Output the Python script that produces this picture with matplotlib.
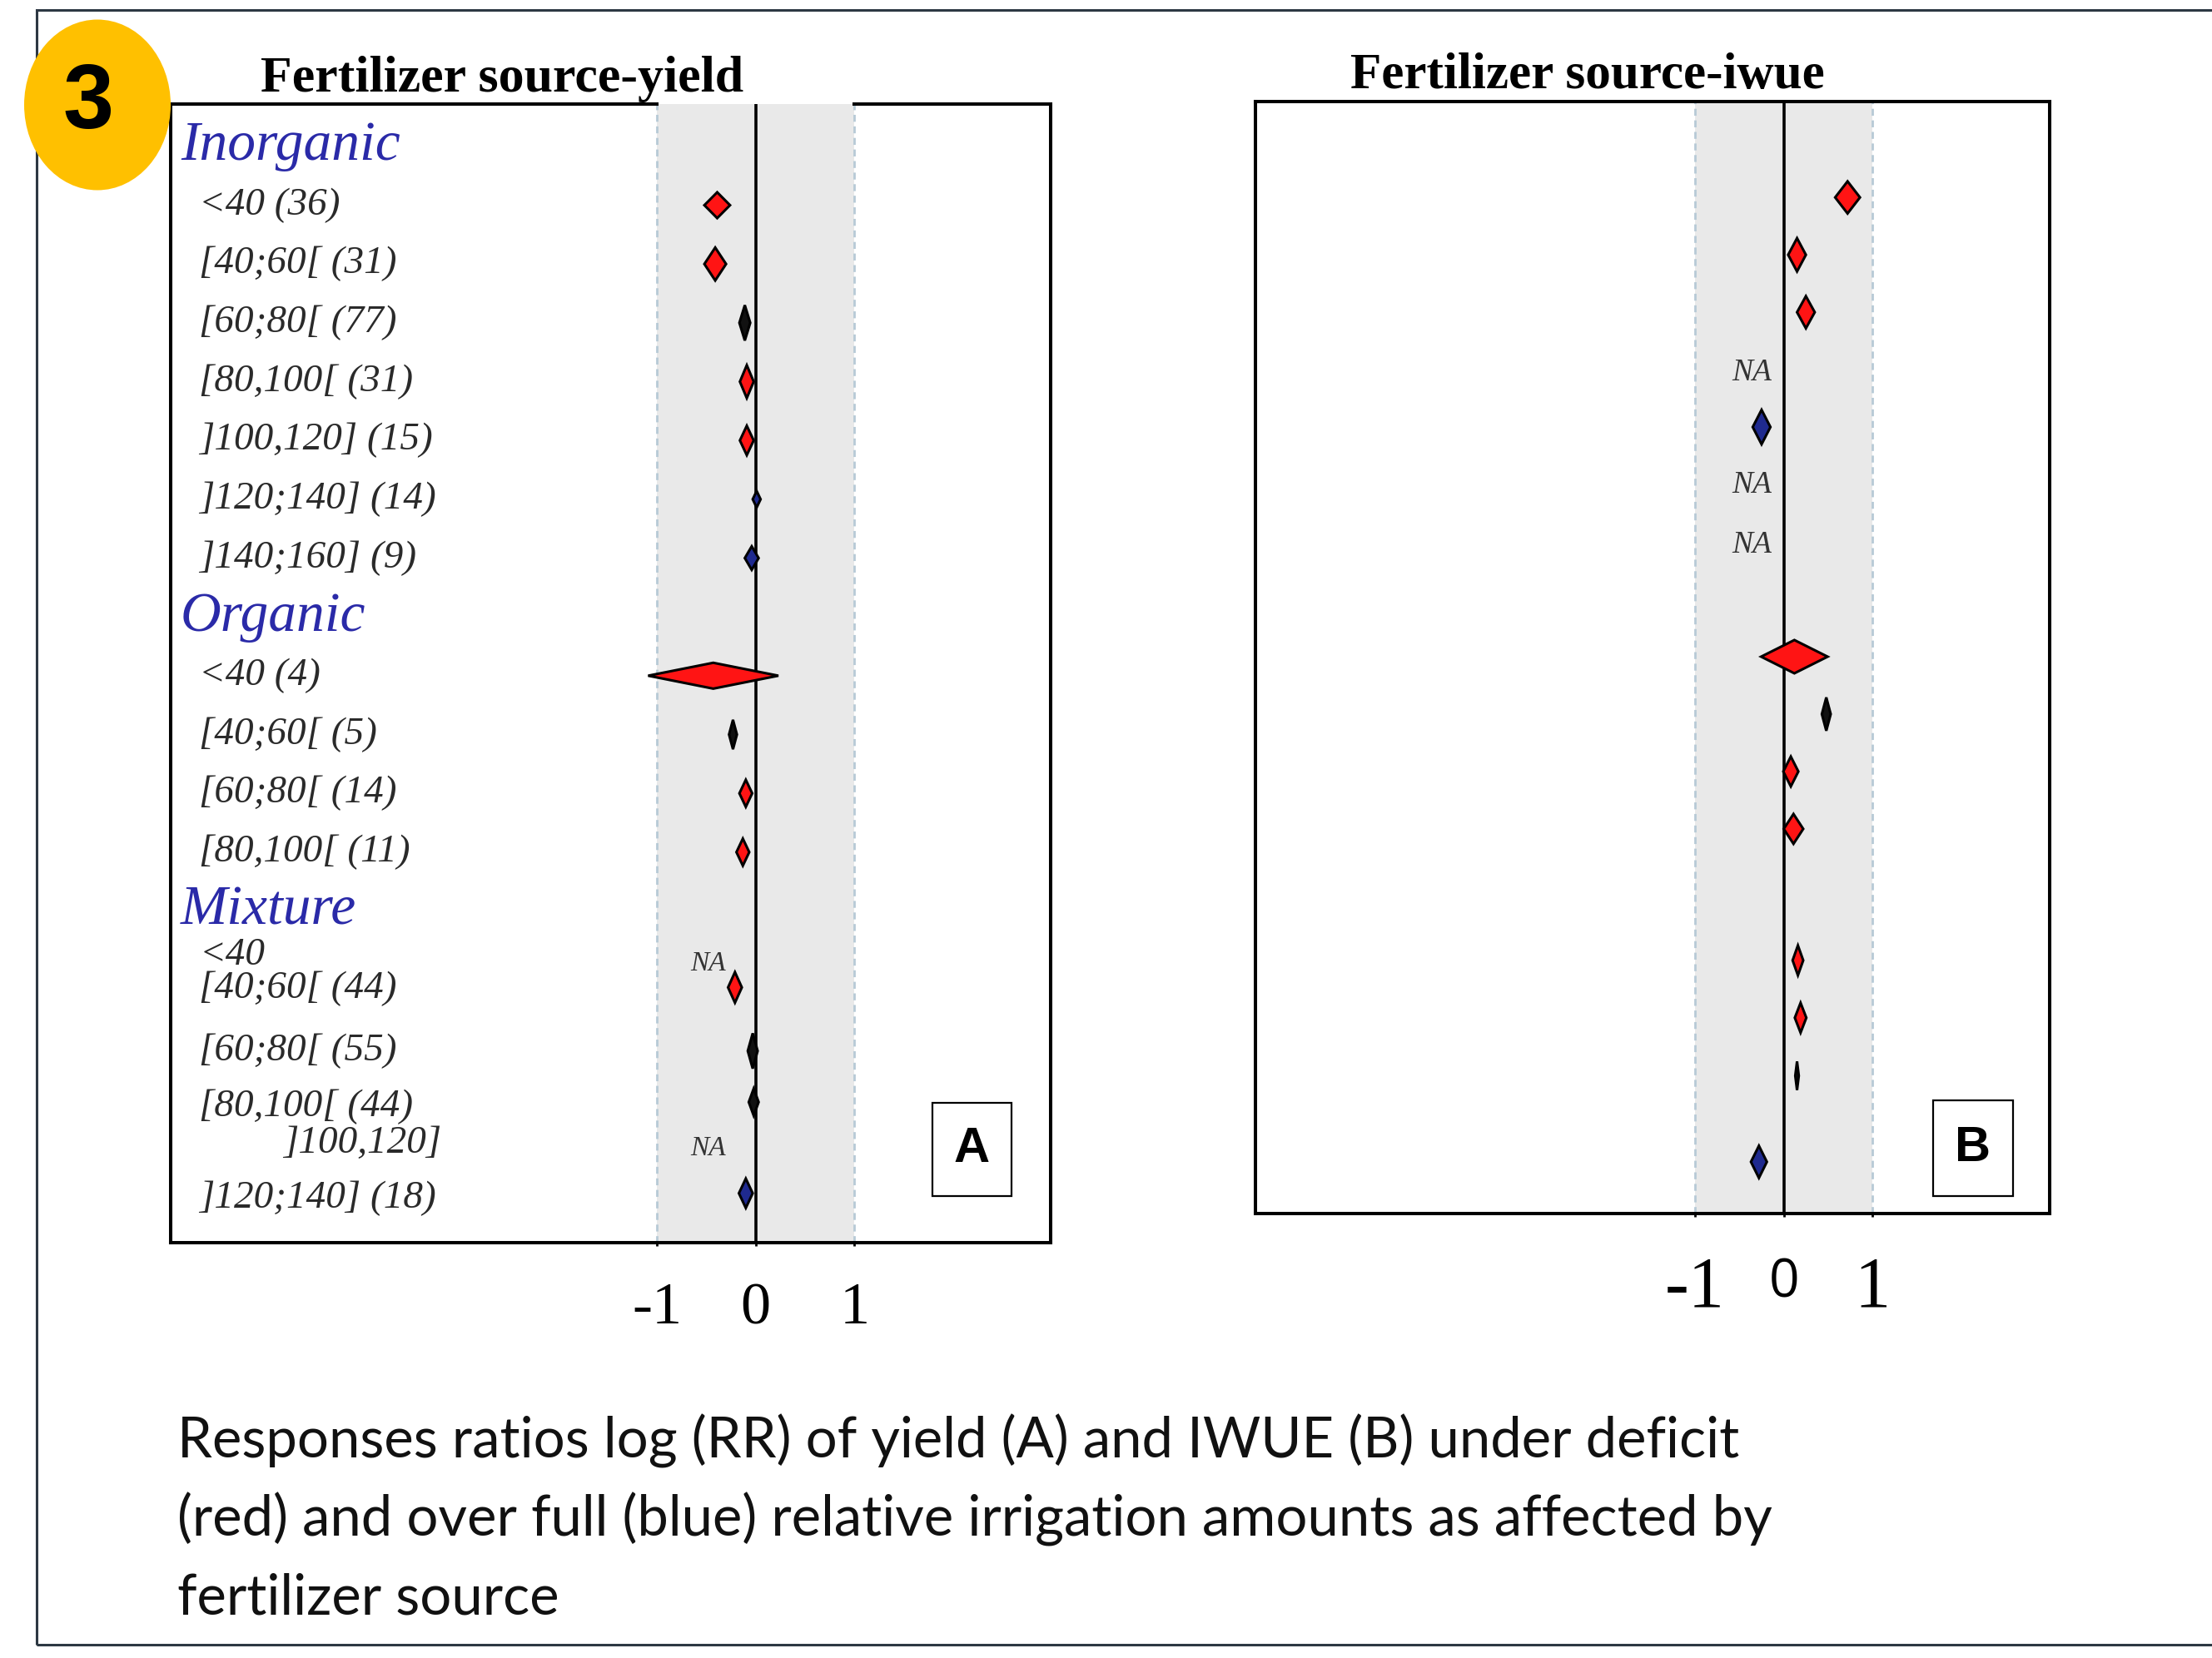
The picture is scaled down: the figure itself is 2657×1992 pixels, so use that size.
import matplotlib
matplotlib.use('Agg')
import matplotlib.pyplot as plt
from matplotlib.patches import Ellipse, Rectangle
from matplotlib import font_manager
import numpy as np

W, H, DPI = 2657, 1992, 100

# ---------------- data ----------------
group_names = ["Inorganic", "Organic", "Mixture"]

yield_labels = ["<40 (36)", "[40;60[ (31)", "[60;80[ (77)", "[80,100[ (31)",
                "]100,120] (15)", "]120;140] (14)", "]140;160] (9)",
                "<40 (4)", "[40;60[ (5)", "[60;80[ (14)", "[80,100[ (11)",
                "<40", "[40;60[ (44)", "[60;80[ (55)", "[80,100[ (44)",
                "]100,120]", "]120;140] (18)"]

# log response ratio of yield (panel A)
yield_lnrr = [-0.39, -0.41, -0.11, -0.09, -0.09, 0.01, -0.04,
              -0.43, -0.23, -0.10, -0.13,
              -0.21, -0.03, -0.02, -0.10]
yield_ci = [0.13, 0.11, 0.055, 0.07, 0.07, 0.04, 0.07,
            0.66, 0.04, 0.065, 0.065,
            0.07, 0.05, 0.05, 0.07]
yield_type = ["deficit", "deficit", "thin", "deficit", "deficit", "full", "full",
              "deficit", "thin", "deficit", "deficit",
              "deficit", "thin", "thin", "full"]

# log response ratio of IWUE (panel B)
iwue_lnrr = [0.72, 0.15, 0.25, -0.25,
             0.12, 0.48, 0.08, 0.11,
             0.16, 0.19, 0.15, -0.28]
iwue_ci = [0.14, 0.10, 0.10, 0.10,
           0.375, 0.05, 0.085, 0.11,
           0.06, 0.065, 0.02, 0.09]
iwue_type = ["deficit", "deficit", "deficit", "full",
             "deficit", "thin", "deficit", "deficit",
             "deficit", "deficit", "thin", "full"]

tick_values = [-1, 0, 1]
tick_labels = ["-1", "0", "1"]

# ---------------- layout (row positions, sizes) ----------------
group_rows = [0, 8, 13]
yield_label_rows = [1, 2, 3, 4, 5, 6, 7, 9, 10, 11, 12,
                    13.76, 14.32, 15.38, 16.33, 16.95, 17.89]
yield_label_x = [-5.64] * 15 + [-4.79, -5.64]
yield_rows = [1, 2, 3, 4, 5, 6, 7, 9, 10, 11, 12, 14.3, 15.38, 16.25, 17.8]
yield_halfh = [0.22, 0.28, 0.30, 0.28, 0.25, 0.14, 0.20,
               0.22, 0.25, 0.23, 0.23, 0.26, 0.30, 0.23, 0.25]
yield_na_rows = [13.9, 17.04]
iwue_rows = [1, 2, 3, 5, 9, 10, 11, 12, 14.29, 15.29, 16.3, 17.8]
iwue_halfh = [0.28, 0.29, 0.28, 0.30, 0.29, 0.29, 0.26, 0.26, 0.26, 0.26, 0.25, 0.28]
iwue_na_rows = [4.06, 6.01, 7.06]

type_fill = {"deficit": "#ff1414", "full": "#1f2a8f", "thin": "#111111"}

SERIF = "Liberation Serif"
SANS = "Liberation Sans"
installed = {f.name for f in font_manager.fontManager.ttflist}
CAP_FONT = "Liberation Sans Narrow" if "Liberation Sans Narrow" in installed else "Lato"

fig = plt.figure(figsize=(W / DPI, H / DPI), dpi=DPI)
fig.patch.set_facecolor("white")
renderer = fig.canvas.get_renderer()


def fx(x):
    return x / W


def fy(y):
    return 1 - y / H


def fit(t, width_px):
    fs = t.get_fontsize()
    w = t.get_window_extent(renderer).width
    t.set_fontsize(fs * width_px / w)
    return t.get_fontsize()


def diamonds(ax, rows, vals, cis, hh, types):
    for r, v, c, h, tp in zip(rows, vals, cis, hh, types):
        xs = [v - c, v, v + c, v, v - c]
        ys = [r, r - h, r, r + h, r]
        ax.fill(xs, ys, facecolor=type_fill[tp], edgecolor="black",
                linewidth=2.2, zorder=5, joinstyle="miter")


def make_axes(rect_px, xlim, ylim, cover_top):
    l, t, r, b = rect_px
    ax = fig.add_axes([fx(l), fy(b), fx(r - l), (b - t) / H])
    ax.set_xlim(*xlim)
    ax.set_ylim(*ylim)
    ax.axvspan(-1, 1, color="#e9e9e9", zorder=0.5, linewidth=0)
    for xv in (-1, 1):
        ax.axvline(xv, color="#b7cad6", linestyle=(0, (3, 2)), linewidth=2, zorder=1)
    ax.axvline(0, color="black", linewidth=2.6, zorder=2)
    for s in ax.spines.values():
        s.set_linewidth(2.9)
    if cover_top:
        ax.spines["top"].set_visible(False)
        yt = ylim[1]
        ax.plot([xlim[0], -1], [yt, yt], color="black", lw=2.9,
                clip_on=False, solid_capstyle="projecting", zorder=3)
        ax.plot([1, xlim[1]], [yt, yt], color="black", lw=2.9,
                clip_on=False, solid_capstyle="projecting", zorder=3)
    ax.set_yticks([])
    ax.tick_params(axis="x", length=3, width=2, direction="out")
    return ax


# ---------------- panel A ----------------
axA = make_axes((205, 125, 1262, 1493), (-5.93, 2.99), (18.64, -0.72), True)
axA.set_xticks(tick_values)
axA.set_xticklabels(tick_labels, fontfamily=SERIF, fontsize=52)
axA.tick_params(axis="x", pad=31)
diamonds(axA, yield_rows, yield_lnrr, yield_ci, yield_halfh, yield_type)

hdr = axA.text(-5.83, group_rows[0], group_names[0], fontfamily=SERIF,
               style="italic", color="#2a2aa8", fontsize=44, va="center", ha="left")
hfs = fit(hdr, 264)
for g, r in zip(group_names[1:], group_rows[1:]):
    axA.text(-5.83, r, g, fontfamily=SERIF, style="italic", color="#2a2aa8",
             fontsize=hfs, va="center", ha="left")

probe = axA.text(0, 0, "[40;60[ (31)", fontfamily=SERIF, style="italic", fontsize=31)
lfs = fit(probe, 237)
probe.remove()
for lab, r, x in zip(yield_labels, yield_label_rows, yield_label_x):
    axA.text(x, r, lab, fontfamily=SERIF, style="italic", color="#2a2a2a",
             fontsize=lfs, va="center", ha="left", zorder=6)
for r in yield_na_rows:
    axA.text(-0.48, r, "NA", fontfamily=SERIF, style="italic", color="#333333",
             fontsize=24, va="center", ha="center", zorder=6)

# ---------------- panel B ----------------
axB = make_axes((1508, 122, 2462, 1458), (-5.96, 3.0), (18.7, -0.67), False)
axB.set_xticks(tick_values)
axB.set_xticklabels(tick_labels, fontfamily=SERIF, fontsize=62)
axB.tick_params(axis="x", pad=34)
zero_lab = axB.get_xticklabels()[1]
zero_lab.set_fontfamily("Open Sans")
zero_lab.set_fontsize(46)
diamonds(axB, iwue_rows, iwue_lnrr, iwue_ci, iwue_halfh, iwue_type)
for r in iwue_na_rows:
    axB.text(-0.36, r, "NA", fontfamily=SERIF, style="italic", color="#333333",
             fontsize=27, va="center", ha="center", zorder=6)

# ---------------- titles ----------------
tA = fig.text(fx(603), fy(110), "Fertilizer source-yield", fontfamily=SERIF,
              weight="bold", fontsize=42, ha="center", va="baseline")
fit(tA, 581)
tB = fig.text(fx(1907), fy(106), "Fertilizer source-iwue", fontfamily=SERIF,
              weight="bold", fontsize=42, ha="center", va="baseline")
fit(tB, 571)

# ---------------- panel letter boxes ----------------
for (l, t, r, b, letter) in [(1120, 1325, 1215, 1437, "A"), (2322, 1322, 2418, 1437, "B")]:
    fig.patches.append(Rectangle((fx(l), fy(b)), fx(r - l), (b - t) / H,
                                 transform=fig.transFigure, facecolor="white",
                                 edgecolor="black", linewidth=1.6, zorder=10))
    fig.text(fx((l + r) / 2), fy((t + b) / 2), letter, fontfamily=SANS,
             weight="bold", fontsize=43, ha="center", va="center", zorder=11)

# ---------------- badge ----------------
fig.patches.append(Ellipse((fx(117), fy(126)), fx(176), 205 / H,
                           transform=fig.transFigure, facecolor="#ffc000",
                           edgecolor="none", zorder=10))
fig.text(fx(106), fy(126), "3", fontfamily=SANS, weight="bold", fontsize=79,
         ha="center", va="center", zorder=11)

# ---------------- caption ----------------
cap_lines = ["Responses ratios log (RR) of yield (A) and IWUE (B) under deficit",
             "(red) and over full (blue) relative irrigation amounts as affected by",
             "fertilizer source"]
cap_base = [1752, 1845, 1939]
c0 = fig.text(fx(213), fy(cap_base[0]), cap_lines[0], fontfamily=CAP_FONT,
              fontsize=50, ha="left", va="baseline", color="#111111")
cfs = fit(c0, 1876)
for line, yb in zip(cap_lines[1:], cap_base[1:]):
    fig.text(fx(213), fy(yb), line, fontfamily=CAP_FONT, fontsize=cfs,
             ha="left", va="baseline", color="#111111")

# ---------------- outer frame ----------------
fig.patches.append(Rectangle((fx(44), fy(1976)), fx(W), (1976 - 12) / H,
                             transform=fig.transFigure, facecolor="none",
                             edgecolor="#2d3843", linewidth=2.2, zorder=0,
                             clip_on=False))

fig.savefig("out.png", dpi=DPI, facecolor="white")
